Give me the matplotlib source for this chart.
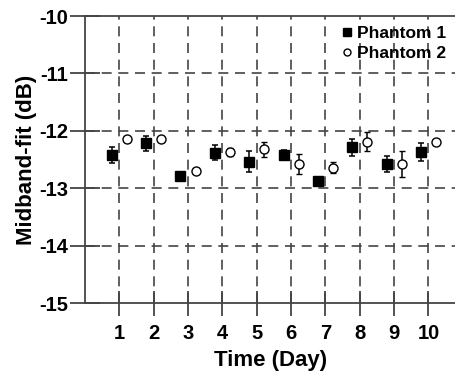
import matplotlib
matplotlib.use("Agg")
import matplotlib.pyplot as plt
import numpy as np

plt.rcParams['font.family'] = ['Liberation Sans', 'DejaVu Sans']
plt.rcParams['font.weight'] = 'bold'
plt.rcParams['axes.unicode_minus'] = False

days = [1, 2, 3, 4, 5, 6, 7, 8, 9, 10]
p1_mean = [-12.42, -12.22, -12.79, -12.38, -12.54, -12.42, -12.87, -12.29, -12.58, -12.37]
p1_err = [0.14, 0.13, 0.02, 0.13, 0.18, 0.08, 0.06, 0.15, 0.14, 0.16]
p2_mean = [-12.15, -12.15, -12.70, -12.37, -12.32, -12.58, -12.64, -12.19, -12.58, -12.20]
p2_err = [0.05, 0.05, 0.05, 0.07, 0.13, 0.18, 0.10, 0.17, 0.22, 0.05]
xticks = [1, 2, 3, 4, 5, 6, 7, 8, 9, 10]
yticks = [-15, -14, -13, -12, -11, -10]

fig = plt.figure(figsize=(4.55, 3.79), dpi=100)
ax = fig.add_axes([85/455, 1 - 303/379, 1 - 85/455 + 0.002, (303 - 16)/379])

x = np.array(days, dtype=float)
ax.errorbar(x - 0.22, p1_mean, yerr=p1_err, fmt='s', color='black', ms=6.5,
            elinewidth=1.1, capsize=2.5, capthick=1.1, label='Phantom 1', zorder=3)
ax.errorbar(x + 0.22, p2_mean, yerr=p2_err, fmt='o', color='black', mfc='white', ms=6.5,
            mew=1.0, elinewidth=1.1, capsize=2.5, capthick=1.1, label='Phantom 2', zorder=3)

ax.set_xlim(0, 10.8)
ax.set_ylim(-15, -10)
ax.set_xticks(xticks)
ax.set_yticks(yticks)
ax.tick_params(direction='inout', width=1.3, color='#444444', labelsize=14.5)
ax.tick_params(axis='x', length=18, pad=6)
ax.tick_params(axis='y', length=22, pad=1)
for lab in ax.get_xticklabels() + ax.get_yticklabels():
    lab.set_fontweight('bold')

for v in xticks:
    ax.axvline(v, color='#444444', lw=1.2, ls=(0, (6, 4)), zorder=1)
for v in [-14, -13, -12, -11]:
    ax.axhline(v, color='#444444', lw=1.2, ls=(0, (6, 4)), zorder=1)

ax.spines['right'].set_visible(False)
for s in ['left', 'bottom', 'top']:
    ax.spines[s].set_color('#444444')
    ax.spines[s].set_linewidth(1.3)

ax.set_xlabel('Time (Day)', fontsize=16, fontweight='bold', labelpad=5)
ax.set_ylabel('Midband-fit (dB)', fontsize=16, fontweight='bold', labelpad=2)

h, l = ax.get_legend_handles_labels()
h = [hh[0] for hh in h]
leg = ax.legend(h, l, loc='upper right', bbox_to_anchor=(1.0, 1.0), frameon=False,
                prop={'weight': 'bold', 'size': 12.5}, handletextpad=0.2, handlelength=0.8,
                borderaxespad=0.15, borderpad=0.4, labelspacing=0.28)
leg.legend_handles[0].set_markersize(5.5)
leg.legend_handles[1].set_markersize(5)

fig.savefig('out.png', dpi=100)
